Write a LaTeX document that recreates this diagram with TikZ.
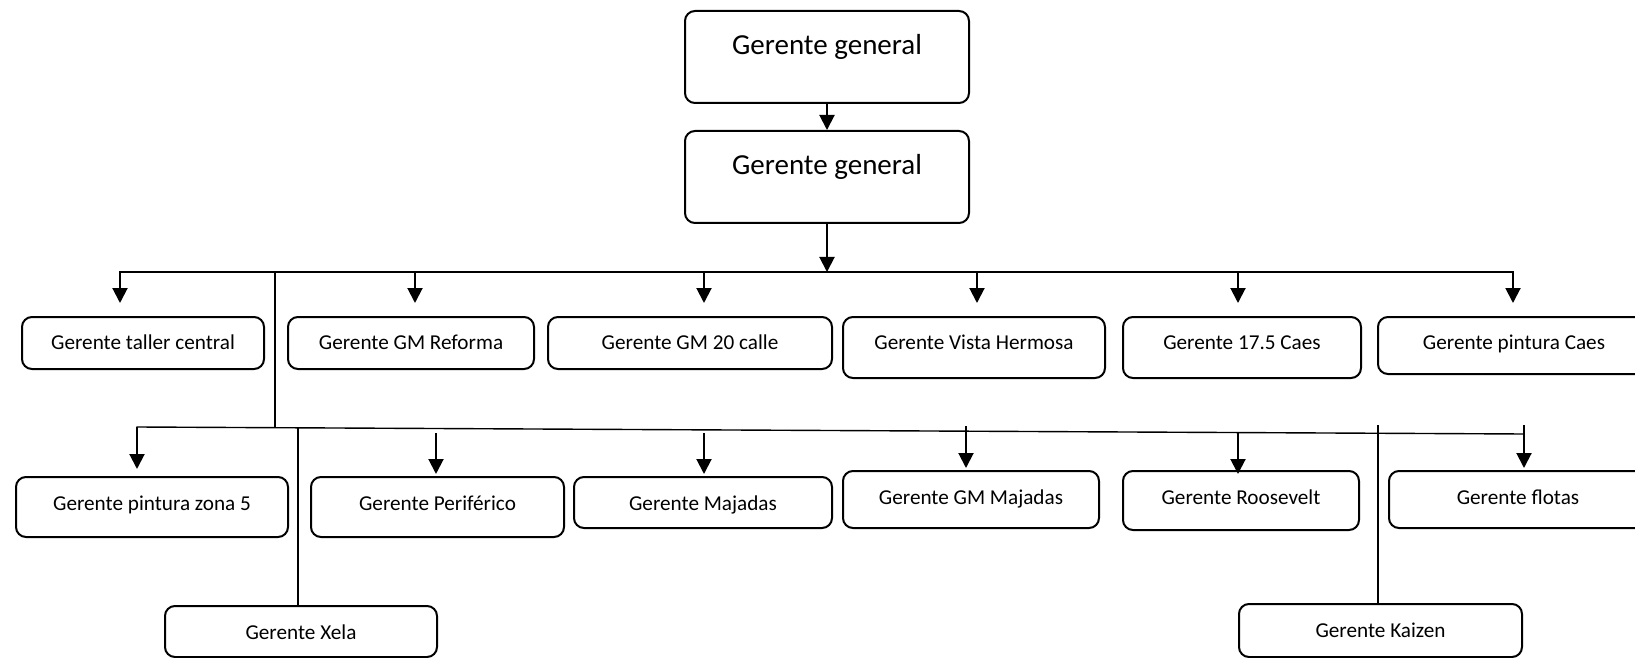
\documentclass[tikz,border=0pt]{standalone}
\usepackage{fontspec}
\setmainfont{Carlito}
\usetikzlibrary{arrows.meta}

\begin{document}
\begin{tikzpicture}[x=0.5pt,y=-0.5pt,>={Triangle[width=7.5pt,length=7.5pt]}]
  \tikzset{
    box/.style={draw=black,line width=1pt,rounded corners=5pt,anchor=north west,inner sep=0pt,
      font=\fontsize{10.6}{12}\selectfont,text height=16.5pt},
    big/.style={box,font=\fontsize{14.5}{17}\selectfont,minimum width=142pt,text height=22pt,text depth=24pt},
    bus/.style={draw=black,line width=1pt,line cap=rect},
    thin/.style={draw=black,line width=0.7pt},
    arr/.style={draw=black,line width=1pt,->},
  }
  \useasboundingbox (0,0) rectangle (1635,658);

  \node[big] (gg1) at (684,10) {Gerente general};
  \node[big] (gg2) at (684,130) {Gerente general};

  \node[box,minimum width=121pt,text depth=9.5pt] (taller) at (21,316) {Gerente taller central};
  \node[box,minimum width=123pt,text depth=9.5pt] (reforma) at (287,316) {Gerente GM Reforma};
  \node[box,minimum width=142pt,text depth=9.5pt] (calle) at (547,316) {Gerente GM 20 calle};
  \node[box,minimum width=131pt,text depth=14pt] (vista) at (842,316) {Gerente Vista Hermosa};
  \node[box,minimum width=119pt,text depth=14pt] (caes) at (1122,316) {Gerente 17.5 Caes};
  \node[box,minimum width=136pt,text depth=12pt] (pcaes) at (1377,316) {Gerente pintura Caes};

  \node[box,minimum width=136pt,text depth=13.5pt] (zona) at (15,476) {Gerente pintura zona 5};
  \node[box,minimum width=126.5pt,text depth=13.5pt] (perif) at (310,476) {Gerente Periférico};
  \node[box,minimum width=129pt,text depth=9pt] (majadas) at (573,476) {Gerente Majadas};
  \node[box,minimum width=128pt,text depth=12pt] (gmmaj) at (842,470) {Gerente GM Majadas};
  \node[box,minimum width=118pt,text depth=13pt] (roosevelt) at (1122,470) {Gerente Roosevelt};
  \node[box,minimum width=129pt,text depth=12pt] (flotas) at (1388,470) {Gerente flotas};
  \node[box,minimum width=136pt,text depth=9pt] (xela) at (164,605) {Gerente Xela};
  \node[box,minimum width=141.5pt,text depth=10pt] (kaizen) at (1238,603) {Gerente Kaizen};

  \coordinate (b1l) at (120,272);
  \coordinate (b1r) at (1513,272);
  \coordinate (b1x) at (275,272);
  \coordinate (b2l) at (137,427);
  \coordinate (b2r) at (1524,434);
  \coordinate (b2x) at (275,428);
  \coordinate (kx) at (298,428);
  \coordinate (kk) at (1378,425);

  \draw[arr] (gg1.south) -- (gg2.north);
  \draw[arr] (gg2.south) -- (gg2.south |- b1l);
  \draw[bus] (b1l) -- (b1r);
  \draw[arr] (b1l) -- (120,303);
  \draw[arr] (415,272) -- (415,303);
  \draw[arr] (704,272) -- (704,303);
  \draw[arr] (977,272) -- (977,303);
  \draw[arr] (1238,272) -- (1238,303);
  \draw[arr] (b1r) -- (1513,303);

  \draw[thin] (b1x) -- (b2x);
  \draw[thin,line cap=rect] (b2l) -- (b2r);
  \draw[arr] (b2l) -- (137,469);
  \draw[arr] (436,433) -- (436,474);
  \draw[arr] (704,433) -- (704,474);
  \draw[arr] (966,426) -- (966,468);
  \draw[arr] (1238,432) -- (1238,474);
  \draw[arr] (1524,425) -- (1524,468);
  \draw[thin] (kx) -- (kx |- xela.north);
  \draw[thin] (kk) -- (kk |- kaizen.north);
\end{tikzpicture}
\end{document}
